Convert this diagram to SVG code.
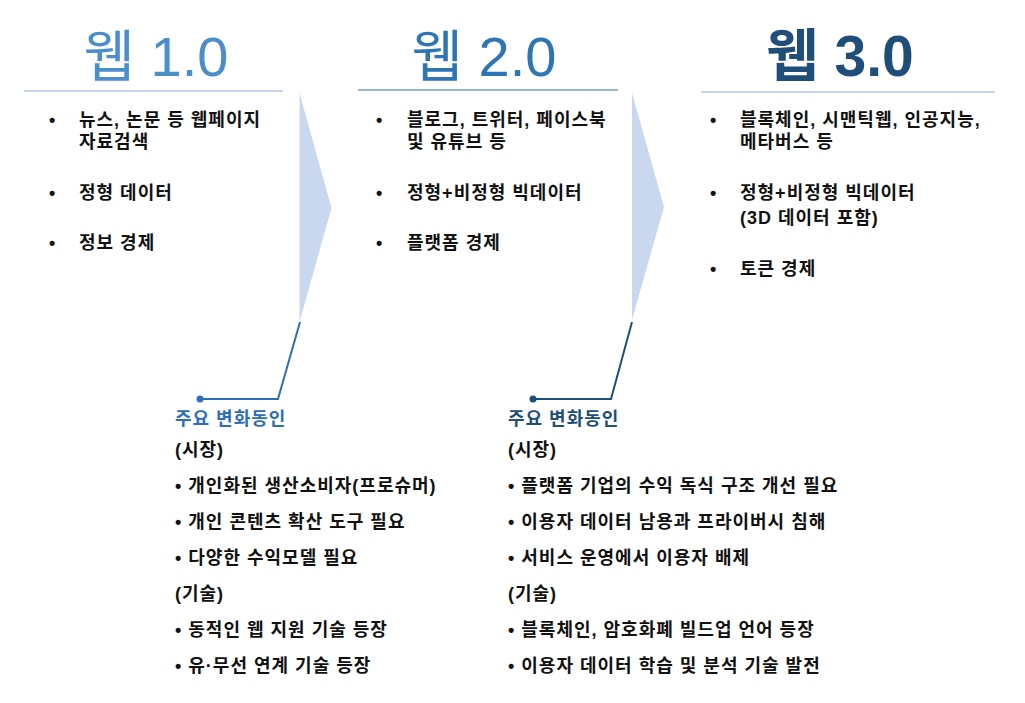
<svg xmlns="http://www.w3.org/2000/svg" width="1025" height="703" viewBox="0 0 1025 703">
<style>
  text { font-family: "Liberation Sans", "Noto Sans CJK KR", sans-serif; }
  .h { font-size: 56px; text-anchor: middle; }
  .b { font-size: 18px; font-weight: bold; fill: #111; letter-spacing: 1px; }
  .s { font-size: 18px; font-weight: bold; fill: #111; letter-spacing: 1px; }
  .chev { fill: #c9d8ee; }
</style>
<rect width="1025" height="703" fill="#fff"/>

<g id="web1">
  <text class="h" x="156" y="76" fill="#4a8ecb">웹 1.0</text>
  <line x1="24" y1="91" x2="283" y2="91" stroke="#8faadc" stroke-width="1.2"/>
  <text class="b" x="49" y="126">•</text>
  <text class="b" x="79" y="126">뉴스, 논문 등 웹페이지</text>
  <text class="b" x="79" y="148">자료검색</text>
  <text class="b" x="49" y="199">•</text>
  <text class="b" x="79" y="199">정형 데이터</text>
  <text class="b" x="49" y="249">•</text>
  <text class="b" x="79" y="249">정보 경제</text>
</g>

<g id="web2">
  <text class="h" x="484" y="76" fill="#2e75b6">웹 2.0</text>
  <line x1="358" y1="90" x2="618" y2="90" stroke="#2e75b6" stroke-width="1.2"/>
  <text class="b" x="376" y="126">•</text>
  <text class="b" x="407" y="126">블로그, 트위터, 페이스북</text>
  <text class="b" x="407" y="148">및 유튜브 등</text>
  <text class="b" x="376" y="199">•</text>
  <text class="b" x="407" y="199">정형+비정형 빅데이터</text>
  <text class="b" x="376" y="249">•</text>
  <text class="b" x="407" y="249">플랫폼 경제</text>
</g>

<g id="web3">
  <text class="h" x="840" y="76" fill="#1f4e79" font-weight="bold" style="font-size:57px">웹 3.0</text>
  <line x1="701" y1="92" x2="995" y2="92" stroke="#8faadc" stroke-width="1.2"/>
  <text class="b" x="710" y="126">•</text>
  <text class="b" x="740" y="126">블록체인, 시맨틱웹, 인공지능,</text>
  <text class="b" x="740" y="148">메타버스 등</text>
  <text class="b" x="710" y="199">•</text>
  <text class="b" x="740" y="199">정형+비정형 빅데이터</text>
  <text class="b" x="740" y="224">(3D 데이터 포함)</text>
  <text class="b" x="710" y="275">•</text>
  <text class="b" x="740" y="275">토큰 경제</text>
</g>

<g id="arrow1">
  <polygon class="chev" points="299.5,93 331.5,208 299.5,322"/>
</g>
<g id="arrow2">
  <polygon class="chev" points="632,93 664,207 632,320"/>
</g>

<g id="connectors">
  <polyline points="300,322 278,399 200,399" fill="none" stroke="#2e6db8" stroke-width="2"/>
  <circle cx="200" cy="399" r="3.5" fill="#2e6db8"/>
  <polyline points="632,322 611,399 533,399" fill="none" stroke="#1f4e79" stroke-width="2"/>
  <circle cx="533" cy="399" r="3.5" fill="#1f4e79"/>
</g>

<g id="drivers1">
  <text class="s" x="175" y="425" style="fill:#2e6db8">주요 변화동인</text>
  <text class="s" x="175" y="456">(시장)</text>
  <text class="s" x="175" y="492">• 개인화된 생산소비자(프로슈머)</text>
  <text class="s" x="175" y="528">• 개인 콘텐츠 확산 도구 필요</text>
  <text class="s" x="175" y="564">• 다양한 수익모델 필요</text>
  <text class="s" x="175" y="600">(기술)</text>
  <text class="s" x="175" y="636">• 동적인 웹 지원 기술 등장</text>
  <text class="s" x="175" y="672">• 유·무선 연계 기술 등장</text>
</g>

<g id="drivers2">
  <text class="s" x="508" y="425" style="fill:#1f4e79">주요 변화동인</text>
  <text class="s" x="508" y="456">(시장)</text>
  <text class="s" x="508" y="492">• 플랫폼 기업의 수익 독식 구조 개선 필요</text>
  <text class="s" x="508" y="528">• 이용자 데이터 남용과 프라이버시 침해</text>
  <text class="s" x="508" y="564">• 서비스 운영에서 이용자 배제</text>
  <text class="s" x="508" y="600">(기술)</text>
  <text class="s" x="508" y="636">• 블록체인, 암호화폐 빌드업 언어 등장</text>
  <text class="s" x="508" y="672">• 이용자 데이터 학습 및 분석 기술 발전</text>
</g>
</svg>
